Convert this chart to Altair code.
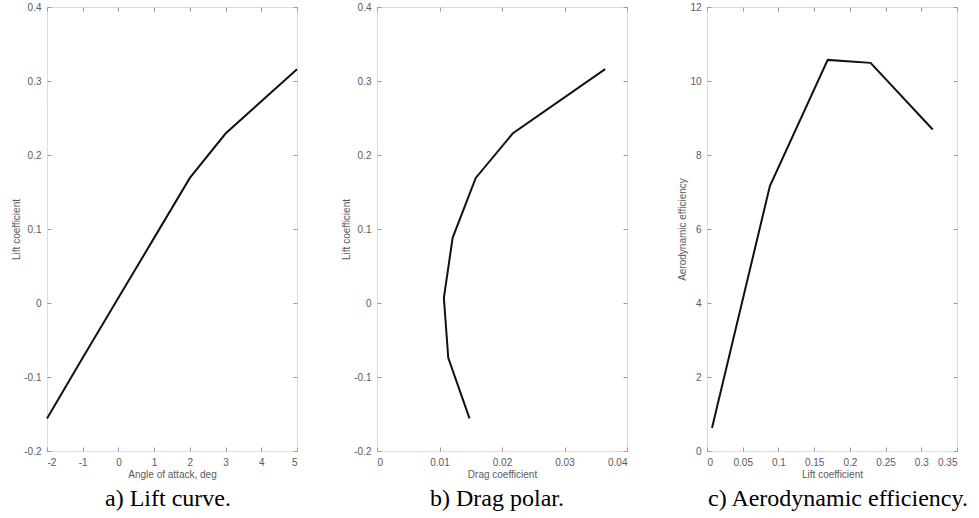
import altair as alt
import pandas as pd

# Aerodynamic characteristics of the section
alpha_deg = [-2, -1, 0, 1, 2, 3, 5]
lift_coef = [-0.156, -0.074, 0.007, 0.088, 0.169, 0.229, 0.316]
drag_coef = [0.0148, 0.0114, 0.0107, 0.0121, 0.0158, 0.0217, 0.0365]
# Efficiency (L/D) for the positive-lift points
cl_positive = [0.007, 0.088, 0.169, 0.229, 0.316]
efficiency = [0.62, 7.16, 10.57, 10.49, 8.69]

alpha_ticks = [-2, -1, 0, 1, 2, 3, 4, 5]
cl_ticks = [-0.2, -0.1, 0, 0.1, 0.2, 0.3, 0.4]
cd_ticks = [0, 0.01, 0.02, 0.03, 0.04]
cl_ticks_c = [0, 0.05, 0.1, 0.15, 0.2, 0.25, 0.3, 0.35]
eff_ticks = [0, 2, 4, 6, 8, 10, 12]

captions = ["a) Lift curve.", "b) Drag polar.", "c) Aerodynamic efficiency."]

polar = pd.DataFrame({"alpha": alpha_deg, "cl": lift_coef, "cd": drag_coef})
eff = pd.DataFrame({"cl": cl_positive, "k": efficiency})

W, H = 250, 444
GREY = "#5a5a5a"
TICK = "#9a9a9a"
SANS = "Liberation Sans"
SERIF = "Liberation Serif"
LABELS = "replace(format(datum.value, '~g'), '\u2212', '-')"


def axis(orient, values, title=None, labels=True):
    return alt.Axis(
        orient=orient,
        values=values,
        domain=False,
        grid=False,
        ticks=True,
        tickSize=4,
        tickColor=TICK,
        tickWidth=1,
        offset=-4,
        labels=labels,
        labelFont=SANS,
        labelFontSize=10,
        labelColor=GREY,
        labelPadding=6,
        labelExpr=LABELS,
        titleFont=SANS,
        titleFontSize=10,
        titleFontWeight="normal",
        titleColor=GREY,
        titlePadding=2,
        title=title,
    )


def panel(data, xf, yf, xdom, ydom, xt, yt, xtitle, ytitle, caption, shift):
    xs = alt.Scale(domain=xdom, nice=False, zero=False)
    ys = alt.Scale(domain=ydom, nice=False, zero=False)
    main = alt.Chart(data).mark_line(color="#111111", strokeWidth=2).encode(
        x=alt.X(f"{xf}:Q", scale=xs, axis=axis("bottom", xt, xtitle)),
        y=alt.Y(f"{yf}:Q", scale=ys, axis=axis("left", yt, ytitle)),
        order=alt.Order("idx:Q"),
    )
    # transparent copy that carries the top and right tick rows of the box
    box = alt.Chart(data).mark_line(strokeOpacity=0).encode(
        x=alt.X(f"{xf}:Q", scale=xs, axis=axis("top", xt, None, labels=False)),
        y=alt.Y(f"{yf}:Q", scale=ys, axis=axis("right", yt, None, labels=False)),
        order=alt.Order("idx:Q"),
    )
    return alt.layer(main, box).resolve_axis(x="independent", y="independent").properties(
        width=W,
        height=H,
        title=alt.TitleParams(
            caption,
            orient="bottom",
            anchor="middle",
            font=SERIF,
            fontSize=24,
            fontWeight="normal",
            color="#000000",
            offset=8,
            dx=shift,
        ),
    )


polar = polar.assign(idx=range(len(polar)))
eff = eff.assign(idx=range(len(eff)))

a = panel(polar, "alpha", "cl", [-2, 5], [-0.2, 0.4], alpha_ticks, cl_ticks,
          "Angle of attack, deg", "Lift coefficient", captions[0], -4)
b = panel(polar, "cd", "cl", [0, 0.04], [-0.2, 0.4], cd_ticks, cl_ticks,
          "Drag coefficient", "Lift coefficient", captions[1], -5)
c = panel(eff, "cl", "k", [0, 0.35], [0, 12], cl_ticks_c, eff_ticks,
          "Lift coefficient", "Aerodynamic efficiency", captions[2], 6)

chart = (
    alt.hconcat(a, b, c, spacing=80, bounds="flush")
    .properties(padding={"left": 11, "top": 1, "right": 5, "bottom": 5})
    .configure_view(stroke="#b0b0b0", strokeWidth=1)
    .configure(background="white")
)

chart.save("out.html", embed_options={"renderer": "svg", "actions": False})
